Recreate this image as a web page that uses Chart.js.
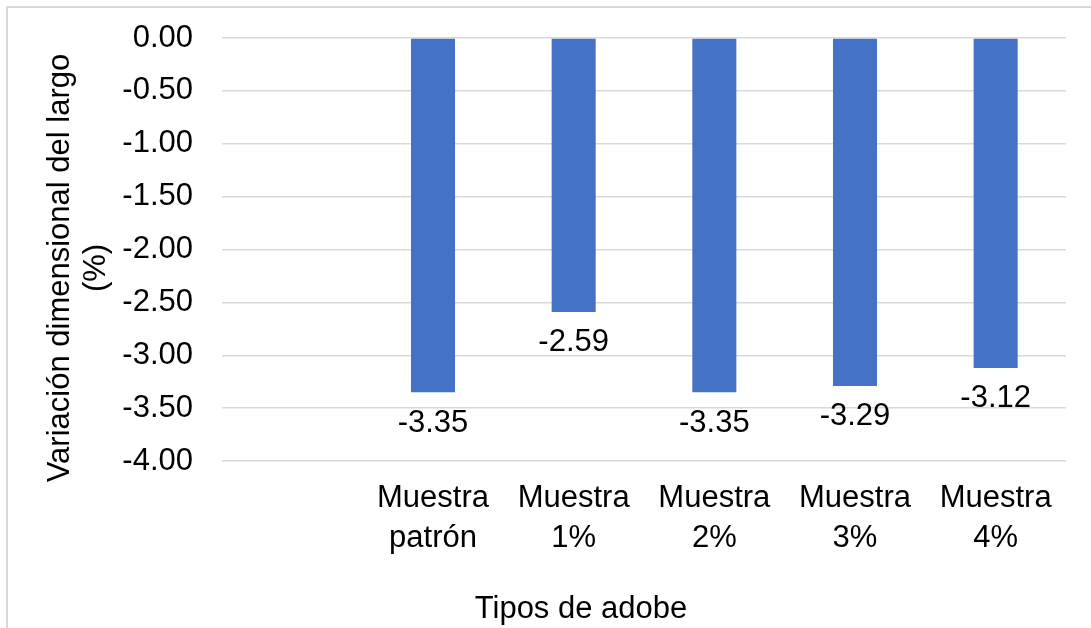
<!DOCTYPE html>
<html>
<head>
<meta charset="utf-8">
<script src="https://cdn.jsdelivr.net/npm/chart.js@4.4.1/dist/chart.umd.min.js"></script>
<style>
  html, body { margin: 0; padding: 0; background: #fff; overflow: hidden; }
  #wrap { width: 1091px; height: 628px; position: relative; }
</style>
</head>
<body>
<div id="wrap"><canvas id="chart"></canvas></div>
<script>
// datos del gráfico (la primera categoría está vacía en el original)
const categorias = ['', ['Muestra', 'patrón'], ['Muestra', '1%'], ['Muestra', '2%'], ['Muestra', '3%'], ['Muestra', '4%']];
const variacion = [null, -3.35, -2.59, -3.35, -3.29, -3.12];
const ejeY = { min: -4, max: 0, paso: 0.5 };
const tituloY = ['Variación dimensional del largo', '(%)'];
const tituloX = 'Tipos de adobe';

const fuente = "'Liberation Sans', Arial, sans-serif";
const azul = '#4472c4';
const gris = '#d9d9d9';

// marco, títulos de ejes y etiquetas de valores
const extras = {
    id: 'extras',
    beforeDraw(chart) {
        const ctx = chart.ctx;
        ctx.save();
        ctx.strokeStyle = gris;
        ctx.lineWidth = 2;
        ctx.beginPath();
        ctx.moveTo(7, chart.height + 5);
        ctx.lineTo(7, 7);
        ctx.lineTo(chart.width + 5, 7);
        ctx.stroke();
        ctx.restore();
    },
    afterDraw(chart) {
        const ctx = chart.ctx;
        const area = chart.chartArea;
        ctx.save();
        ctx.fillStyle = '#000';
        ctx.font = '31px ' + fuente;
        ctx.textAlign = 'center';
        ctx.textBaseline = 'middle';

        // etiquetas de datos debajo de cada barra
        const meta = chart.getDatasetMeta(0);
        meta.data.forEach((bar, i) => {
            const v = variacion[i];
            if (v === null || v === undefined) return;
            ctx.fillText(v.toFixed(2), bar.x, bar.y + 31);
        });

        // título eje X
        ctx.fillText(tituloX, 581, area.bottom + 148);

        // título eje Y (rotado)
        ctx.translate(60, area.top + 230);
        ctx.rotate(-Math.PI / 2);
        ctx.fillText(tituloY[0], 0, 0);
        ctx.fillText(tituloY[1], 0, 36);
        ctx.restore();
    }
};

new Chart(document.getElementById('chart').getContext('2d'), {
    type: 'bar',
    data: {
        labels: categorias,
        datasets: [{
            data: variacion,
            backgroundColor: azul,
            borderWidth: 0,
            barPercentage: 0.313,
            categoryPercentage: 1
        }]
    },
    options: {
        responsive: true,
        maintainAspectRatio: false,
        animation: false,
        layout: { padding: { left: 0, top: 38, right: 25, bottom: 0 } },
        plugins: {
            legend: { display: false },
            tooltip: { enabled: false }
        },
        scales: {
            x: {
                grid: { display: false },
                border: { display: false },
                ticks: {
                    color: '#000',
                    font: { family: fuente, size: 31, lineHeight: 1.28 },
                    padding: 10,
                    maxRotation: 0,
                    autoSkip: false
                },
                afterFit(scale) {
                    scale.height = 167;
                    scale.paddingLeft = 0;
                    scale.paddingRight = 0;
                }
            },
            y: {
                min: ejeY.min,
                max: ejeY.max,
                grid: { color: gris, lineWidth: 1.5, drawTicks: false },
                border: { display: false },
                ticks: {
                    stepSize: ejeY.paso,
                    color: '#000',
                    font: { family: fuente, size: 31 },
                    padding: 29,
                    callback: (v) => Number(v).toFixed(2)
                },
                afterFit(scale) {
                    scale.width = 222;
                    scale.paddingTop = 0;
                    scale.paddingBottom = 0;
                }
            }
        }
    },
    plugins: [extras]
});
</script>
</body>
</html>
